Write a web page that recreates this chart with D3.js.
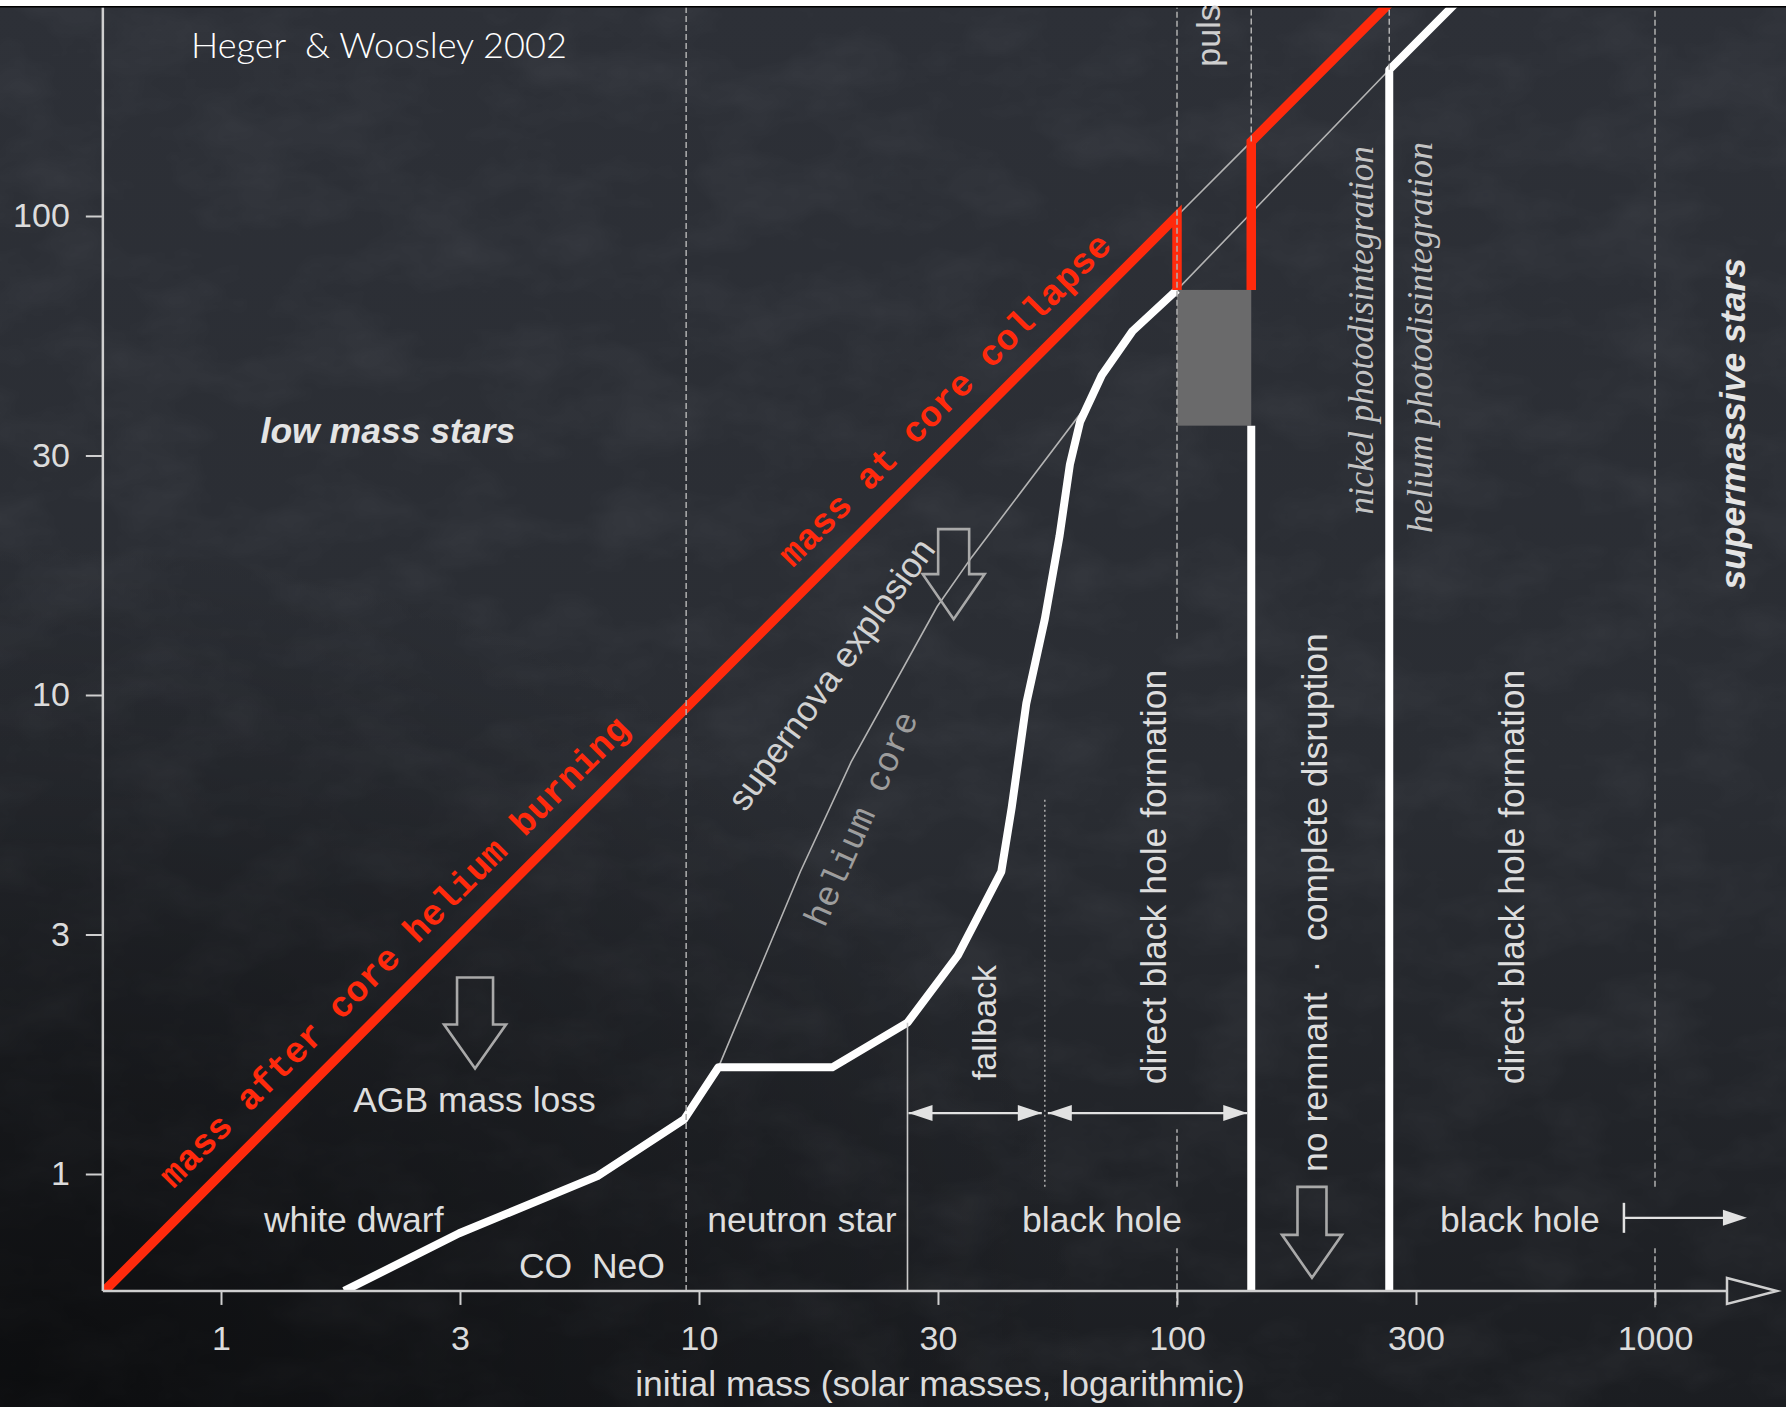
<!DOCTYPE html>
<html>
<head>
<meta charset="utf-8">
<script src="https://cdn.jsdelivr.net/npm/d3@7"></script>
<style>
  html, body { margin: 0; padding: 0; background: #24272d; }
  svg { display: block; font-family: "Liberation Sans", Arial, sans-serif; }
</style>
</head>
<body>
<svg id="chart" width="1786" height="1407"></svg>
<script>
// ---------------- data ----------------
// axis ticks (the "3" ticks sit at half decades)
const xTickValues = [1, 3.162, 10, 31.62, 100, 316.2, 1000];
const xTickLabels = ["1", "3", "10", "30", "100", "300", "1000"];
const yTickValues = [1, 3.162, 10, 31.62, 100];
const yTickLabels = ["1", "3", "10", "30", "100"];

// red: mass after core helium burning, then mass at core collapse
const heliumBurningMass = [[0.566, 0.566], [100, 100], [100, 70.1]];
const coreCollapseMass  = [[143, 70.1], [143, 143], [400, 400]];
// thin diagonal bridging the pulsational range
const diagonalBridge = [[100, 100], [143, 143]];
// thin grey: helium core mass
const heliumCoreMass = [[10.98, 1.67], [16.3, 4.28], [20.8, 7.24], [31.5, 15.3], [37.2, 19.4],
                        [65.5, 40.9], [69.6, 46.5], [80.7, 57.5], [100, 70.1], [278, 202]];
// white: remnant mass
const remnantMass = [[1.81, 0.57], [3.15, 0.752], [6.13, 0.99], [9.31, 1.30], [10.98, 1.67],
                     [19.0, 1.67], [27.3, 2.07], [34.8, 2.86], [42.9, 4.28], [45.1, 5.82],
                     [48.4, 9.62], [52.9, 14.4], [56.8, 21.5], [59.7, 30.3], [62.7, 37.2],
                     [69.6, 46.5], [80.7, 57.5], [100, 70.1]];
const remnantPulsational = [[143, 0.57], [143, 36.5]];
const remnantHighMass = [[278, 0.57], [278, 202], [400, 290.6]];
// pulsational pair-instability band (initial mass range, remnant range)
const pulsationalX = [100, 143];
const pulsationalY = [36.5, 70.1];

// region boundaries: [initial mass, lower y, upper y]
const dashedBoundaries = [[9.4, 0.57, 272], [100, 13.1, 272], [100, 0.94, 1.24], [100, 0.527, 0.70],
                          [143, 143, 272], [278, 202, 272], [1000, 0.94, 272], [1000, 0.527, 0.70]];
const solidBoundaries  = [[27.3, 0.57, 2.07]];
const dottedBoundaries = [[52.9, 0.94, 6.1]];
// remnant-type ranges shown by double arrows
const fallbackRange = [27.3, 52.9];
const directCollapseRange = [52.9, 143];

// ---------------- layout ----------------
const W = 1786, H = 1407;
const svg = d3.select("#chart");
const x = d3.scaleLog().domain([1, 1000]).range([221, 1655]);
const y = d3.scaleLog().domain([1, 100]).range([1174, 216]);
const xLo = 0.566, yLo = 0.57, yHi = 272;
const plotLeft = x(xLo), plotBottom = y(yLo), plotTop = y(yHi);

const SANS = "'Liberation Sans', Arial, sans-serif";
const MONO = "'Liberation Mono', 'Courier New', monospace";
const SERIF = "'Liberation Serif', 'Times New Roman', serif";

const defs = svg.append("defs");

// chalkboard background
const bg = defs.append("linearGradient").attr("id", "bgV").attr("x1", 0).attr("y1", 0).attr("x2", 0).attr("y2", 1);
bg.append("stop").attr("offset", "0").attr("stop-color", "#2d3037");
bg.append("stop").attr("offset", "0.55").attr("stop-color", "#2a2d33");
bg.append("stop").attr("offset", "1").attr("stop-color", "#1b1d21");
const vig = defs.append("radialGradient").attr("id", "vig")
  .attr("cx", 0.02).attr("cy", 0.98).attr("r", 0.6);
vig.append("stop").attr("offset", "0").attr("stop-color", "#000").attr("stop-opacity", 0.55);
vig.append("stop").attr("offset", "1").attr("stop-color", "#000").attr("stop-opacity", 0);
const chalk = defs.append("filter").attr("id", "chalk").attr("x", 0).attr("y", 0).attr("width", "100%").attr("height", "100%");
chalk.append("feTurbulence").attr("type", "fractalNoise").attr("baseFrequency", "0.01 0.018")
  .attr("numOctaves", 4).attr("seed", 7);
chalk.append("feColorMatrix").attr("type", "matrix")
  .attr("values", "0 0 0 0 0.78  0 0 0 0 0.80  0 0 0 0 0.86  0 0 0 1.6 -0.62");

svg.append("rect").attr("width", W).attr("height", H).attr("fill", "url(#bgV)");
svg.append("rect").attr("width", W).attr("height", H).attr("filter", "url(#chalk)").attr("opacity", 0.06);
svg.append("rect").attr("width", W).attr("height", H).attr("fill", "url(#vig)");
// paper edge at the very top
svg.append("rect").attr("width", W).attr("height", 6).attr("fill", "#ffffff");
svg.append("rect").attr("y", 6).attr("width", W).attr("height", 1.5).attr("fill", "#000");

defs.append("clipPath").attr("id", "plot").append("rect")
  .attr("x", plotLeft).attr("y", plotTop).attr("width", W - plotLeft).attr("height", plotBottom - plotTop);

const plot = svg.append("g").attr("clip-path", "url(#plot)");
const line = d3.line().x(d => x(d[0])).y(d => y(d[1]));

// pulsational band
plot.append("rect")
  .attr("x", x(pulsationalX[0])).attr("width", x(pulsationalX[1]) - x(pulsationalX[0]))
  .attr("y", y(pulsationalY[1])).attr("height", y(pulsationalY[0]) - y(pulsationalY[1]))
  .attr("fill", "#6a6a6b");

// region boundaries
const boundaryG = svg.append("g");
boundaryG.selectAll(".dashB").data(dashedBoundaries).join("line")
  .attr("x1", d => x(d[0])).attr("x2", d => x(d[0]))
  .attr("y1", d => y(d[1])).attr("y2", d => y(d[2]))
  .attr("stroke", "#b0b0b0").attr("stroke-width", 1.5).attr("stroke-dasharray", "6 3");
boundaryG.selectAll(".solidB").data(solidBoundaries).join("line")
  .attr("x1", d => x(d[0])).attr("x2", d => x(d[0]))
  .attr("y1", d => y(d[1])).attr("y2", d => y(d[2]))
  .attr("stroke", "#c9c9c9").attr("stroke-width", 1.6);
boundaryG.selectAll(".dotB").data(dottedBoundaries).join("line")
  .attr("x1", d => x(d[0])).attr("x2", d => x(d[0]))
  .attr("y1", d => y(d[1])).attr("y2", d => y(d[2]))
  .attr("stroke", "#a9a9a9").attr("stroke-width", 1.6).attr("stroke-dasharray", "2 3");

// thin guide curves
[heliumCoreMass, diagonalBridge].forEach(s =>
  plot.append("path").attr("d", line(s)).attr("fill", "none")
    .attr("stroke", "#b4b4b4").attr("stroke-width", 1.6));

// remnant mass
[remnantMass, remnantPulsational, remnantHighMass].forEach(s =>
  plot.append("path").attr("d", line(s)).attr("fill", "none")
    .attr("stroke", "#ffffff").attr("stroke-width", 8).attr("stroke-linejoin", "round"));

// red mass tracks
[heliumBurningMass, coreCollapseMass].forEach(s =>
  plot.append("path").attr("d", line(s)).attr("fill", "none")
    .attr("stroke", "#ff2a0c").attr("stroke-width", 9.5)
    .attr("stroke-linejoin", "miter").attr("stroke-miterlimit", 3));

// ---------------- axes ----------------
const axisColor = "#cfcfcf";
const gx = svg.append("g").attr("transform", `translate(0,${plotBottom})`)
  .call(d3.axisBottom(x).tickValues(xTickValues).tickFormat((d, i) => xTickLabels[i])
        .tickSize(14).tickPadding(21));
gx.select(".domain").remove();
gx.selectAll(".tick line").attr("stroke", axisColor).attr("stroke-width", 2);
gx.selectAll(".tick text").attr("fill", "#dcdcdc").attr("font-size", 34).style("font-family", SANS);

const gy = svg.append("g").attr("transform", `translate(${plotLeft},0)`)
  .call(d3.axisLeft(y).tickValues(yTickValues).tickFormat((d, i) => yTickLabels[i])
        .tickSize(17).tickPadding(16));
gy.select(".domain").remove();
gy.selectAll(".tick line").attr("stroke", axisColor).attr("stroke-width", 2);
gy.selectAll(".tick text").attr("fill", "#dcdcdc").attr("font-size", 34).style("font-family", SANS);

// axis spines, with the open arrow on the mass axis
svg.append("line").attr("x1", plotLeft).attr("x2", plotLeft).attr("y1", plotTop).attr("y2", plotBottom)
  .attr("stroke", axisColor).attr("stroke-width", 2.5);
svg.append("line").attr("x1", plotLeft).attr("x2", 1727).attr("y1", plotBottom).attr("y2", plotBottom)
  .attr("stroke", axisColor).attr("stroke-width", 2.5);
svg.append("path")
  .attr("d", `M1727,${plotBottom - 13} L1777,${plotBottom} L1727,${plotBottom + 13} Z`)
  .attr("fill", "none").attr("stroke", axisColor).attr("stroke-width", 2.5);

svg.append("text").attr("x", 940).attr("y", 1396)
  .attr("text-anchor", "middle").attr("font-size", 35.5).attr("fill", "#dcdcdc")
  .style("font-family", SANS)
  .text("initial mass (solar masses, logarithmic)");

// ---------------- annotations ----------------
const ann = svg.append("g");
const label = (txt, mx, my, opts = {}) => {
  const t = ann.append("text")
    .attr("transform", `translate(${x(mx)},${y(my)}) rotate(${opts.rot || 0})`)
    .attr("font-size", opts.size || 35.5)
    .attr("fill", opts.fill || "#dedede")
    .attr("text-anchor", opts.anchor || "start")
    .style("white-space", "pre")
    .style("font-family", opts.family || SANS)
    .text(txt);
  if (opts.weight) t.attr("font-weight", opts.weight);
  if (opts.style) t.attr("font-style", opts.style);
  return t;
};

// angle of a slope-one track on these scales
const diagAngle = Math.atan2(y(100) - y(1), x(100) - x(1)) * 180 / Math.PI;
const alongDiag = (txt, m, off) => ann.append("text")
  .attr("transform", `translate(${x(m)},${y(m)}) rotate(${diagAngle})`)
  .attr("y", -off)
  .style("font-family", MONO)
  .attr("font-weight", "bold").attr("font-size", 36).attr("fill", "#ff2a0c")
  .text(txt);
alongDiag("mass after core helium burning", 0.86, 23);
alongDiag("mass at core collapse", 17.0, 23);

label("helium core", 18.3, 3.25, { rot: -66, size: 35, fill: "#9d9d9d", family: MONO });
label("supernova explosion", 12.5, 5.67, { rot: -54, size: 35.5, fill: "#d2d2d2" });

label("low mass stars", 1.21, 33.6, { weight: "bold", style: "italic", size: 35.5, fill: "#e4e4e4" });
label("AGB mass loss", 1.89, 1.35, { size: 35.5 });
label("white dwarf", 1.23, 0.757, { size: 35.5 });
label("CO  NeO", 4.2, 0.607, { size: 35.5 });
label("neutron star", 10.4, 0.757, { size: 35.5 });
label("black hole", 47.4, 0.757, { size: 35.5 });
label("black hole", 355, 0.757, { size: 35.5 });

// vertical region labels
label("fallback", 41.8, 1.57, { rot: -90, size: 34 });
label("direct black hole formation", 94.8, 1.54, { rot: -90 });
label("no remnant  \u00b7  complete disruption", 206, 1.01, { rot: -90 });
label("direct black hole formation", 532, 1.54, { rot: -90 });
label("supermassive stars", 1542, 16.6, { rot: -90, weight: "bold", style: "italic", fill: "#e4e4e4" });
label("puls", 123, 205, { rot: -90, size: 34, fill: "#cfcfcf" });
label("nickel photodisintegration", 257, 23.8, { rot: -90, size: 35, style: "italic", fill: "#c4c4c4", family: SERIF });
label("helium photodisintegration", 341, 21.8, { rot: -90, size: 36, style: "italic", fill: "#c4c4c4", family: SERIF });

// source note
const note = svg.append("text").attr("x", 191).attr("y", 58)
  .style("font-family", "Lato, 'Liberation Sans', sans-serif").attr("font-weight", 300)
  .attr("font-size", 36).attr("fill", "#ffffff").style("white-space", "pre")
  .text("Heger  & Woosley 2002");
{
  const w = note.node().getComputedTextLength();
  note.attr("font-size", 36 * 376 / w);
}

// outlined block arrows (tip position given in data units)
const blockArrow = (mx, my, sw, hw, hl, len) => {
  const tx = x(mx), ty = y(my);
  ann.append("path")
    .attr("d", `M${tx - sw},${ty - len} L${tx + sw},${ty - len} L${tx + sw},${ty - hl} L${tx + hw},${ty - hl}
                L${tx},${ty} L${tx - hw},${ty - hl} L${tx - sw},${ty - hl} Z`)
    .attr("fill", "none").attr("stroke", "#a9a9a9").attr("stroke-width", 2.6).attr("stroke-linejoin", "miter");
};
blockArrow(3.40, 1.66, 18, 31, 44, 91);
blockArrow(34.1, 14.4, 15.5, 31, 45, 90);
blockArrow(191.6, 0.607, 14.5, 30, 43, 91);

// double-headed range arrows
const head = (px, py, dir) => ann.append("path")
  .attr("d", `M${px},${py} L${px - dir * 24},${py - 8} L${px - dir * 24},${py + 8} Z`)
  .attr("fill", "#e2e2e2");
const rangeArrow = (r, ym, g0, g1) => {
  const x0 = x(r[0]) + g0, x1 = x(r[1]) - g1, py = y(ym);
  ann.append("line").attr("x1", x0).attr("x2", x1).attr("y1", py).attr("y2", py)
    .attr("stroke", "#e2e2e2").attr("stroke-width", 2.2);
  head(x0, py, -1);
  head(x1, py, 1);
};
rangeArrow(fallbackRange, 1.34, 1, 3);
rangeArrow(directCollapseRange, 1.34, 3, 4);

// "black hole" beyond the supermassive limit
{
  const py = y(0.81), x0 = x(861), x1 = x(1557);
  ann.append("line").attr("x1", x0).attr("x2", x0).attr("y1", py - 15).attr("y2", py + 15)
    .attr("stroke", "#e2e2e2").attr("stroke-width", 2.5);
  ann.append("line").attr("x1", x0).attr("x2", x1 - 10).attr("y1", py).attr("y2", py)
    .attr("stroke", "#e2e2e2").attr("stroke-width", 2.2);
  head(x1, py, 1);
}
</script>
</body>
</html>
